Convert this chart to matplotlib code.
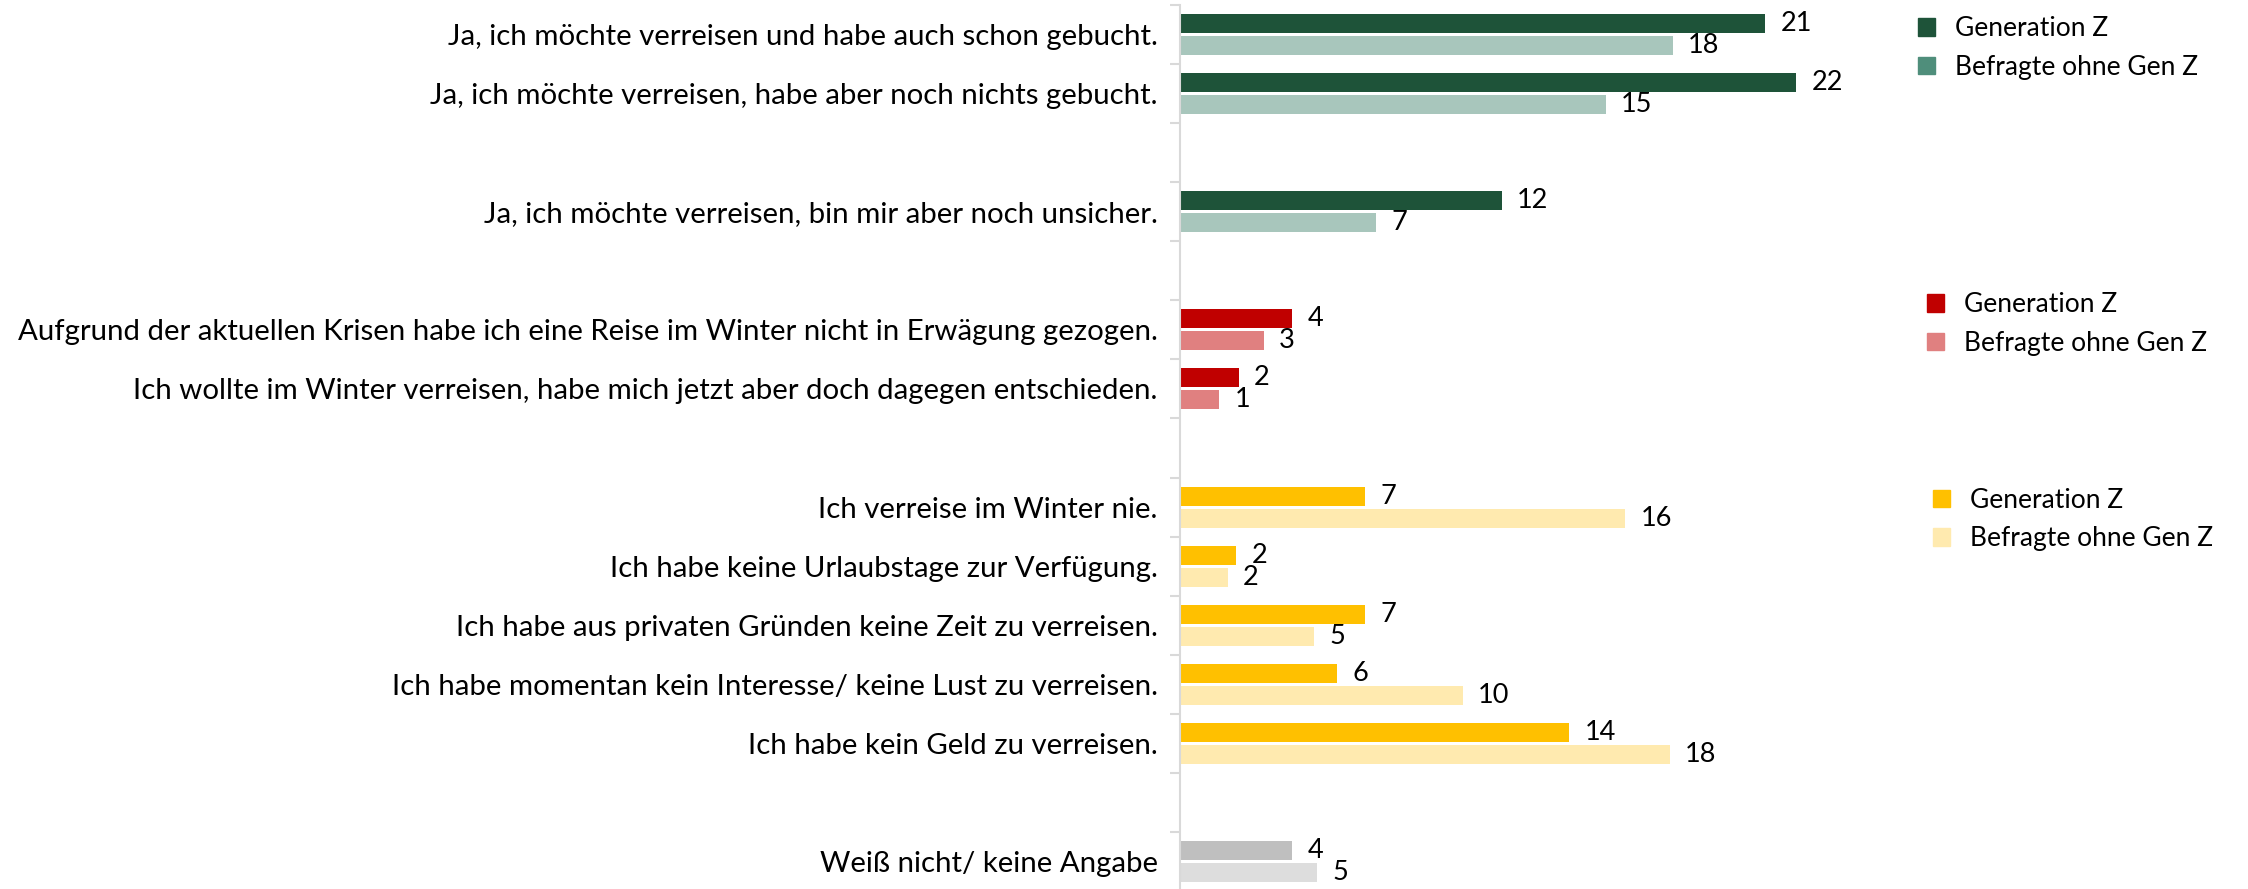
import matplotlib
matplotlib.use('Agg')
import matplotlib.pyplot as plt
import numpy as np
from matplotlib.patches import Patch

plt.rcParams['font.family'] = ['Lato', 'DejaVu Sans']

# rows from top to bottom, '' = empty spacer row
rows = ['Ja, ich möchte verreisen und habe auch schon gebucht.',
        'Ja, ich möchte verreisen, habe aber noch nichts gebucht.',
        '',
        'Ja, ich möchte verreisen, bin mir aber noch unsicher.',
        '',
        'Aufgrund der aktuellen Krisen habe ich eine Reise im Winter nicht in Erwägung gezogen.',
        'Ich wollte im Winter verreisen, habe mich jetzt aber doch dagegen entschieden.',
        '',
        'Ich verreise im Winter nie.',
        'Ich habe keine Urlaubstage zur Verfügung.',
        'Ich habe aus privaten Gründen keine Zeit zu verreisen.',
        'Ich habe momentan kein Interesse/ keine Lust zu verreisen.',
        'Ich habe kein Geld zu verreisen.',
        '',
        'Weiß nicht/ keine Angabe']
group = ['g', 'g', '', 'g', '', 'r', 'r', '', 'y', 'y', 'y', 'y', 'y', '', 'k']
genz = [20.9, 22.0, np.nan, 11.5, np.nan, 4.0, 2.1, np.nan,
        6.6, 2.0, 6.6, 5.6, 13.9, np.nan, 4.0]
ohne = [17.6, 15.2, np.nan, 7.0, np.nan, 3.0, 1.4, np.nan,
        15.9, 1.7, 4.8, 10.1, 17.5, np.nan, 4.9]
legend_labels = ['Generation Z', 'Befragte ohne Gen Z']

col_genz = {'g': '#1E5339', 'r': '#C00000', 'y': '#FFC000', 'k': '#BFBFBF', '': 'white'}
col_ohne = {'g': '#A8C6BC', 'r': '#E08080', 'y': '#FFEAAF', 'k': '#DDDDDD', '': 'white'}
col_leg2 = {'g': '#4F8E7B', 'r': '#E08080', 'y': '#FFEAAF'}

W, H = 2248, 889
fig = plt.figure(figsize=(W / 100, H / 100), dpi=100)
ax = fig.add_axes([1180 / W, (H - 891) / H, 672 / W, 886 / H])

y = np.arange(len(rows))
bh = 0.32
off = 0.186
b1 = ax.barh(y - off, genz, height=bh, color=[col_genz[g] for g in group])
b2 = ax.barh(y + off, ohne, height=bh, color=[col_ohne[g] for g in group])

for bars, vals in [(b1, genz), (b2, ohne)]:
    labs = ['' if np.isnan(v) else '%d' % round(v) for v in vals]
    ax.bar_label(bars, labels=labs, padding=11, fontsize=19.5, color='black')

ax.set_xlim(0, 24)
ax.set_ylim(len(rows) - 0.5, -0.5)
ax.set_yticks(y)
ax.set_yticklabels(rows, fontsize=21.2)
ax.tick_params(axis='y', which='major', length=0, pad=16)
ax.set_yticks(np.arange(len(rows) + 1) - 0.5, minor=True)
ax.tick_params(axis='y', which='minor', length=7.5, width=1.5, color='#D9D9D9')
ax.set_xticks([])
for s in ['top', 'right', 'bottom']:
    ax.spines[s].set_visible(False)
ax.spines['left'].set_color('#D9D9D9')
ax.spines['left'].set_linewidth(1.5)

# three legends, one per colour block
for g, (lx, ly) in [('g', (1918, 48)), ('r', (1927, 324)), ('y', (1933, 519.5))]:
    handles = [Patch(color=col_genz[g]), Patch(color=col_leg2[g])]
    fig.legend(handles, legend_labels, loc='center left',
               bbox_to_anchor=(lx / W, 1 - ly / H), frameon=False,
               fontsize=19, handlelength=0.65, handleheight=0.65,
               handletextpad=0.75, labelspacing=0.5,
               borderpad=0, borderaxespad=0)

fig.savefig('out.png', dpi=100)
